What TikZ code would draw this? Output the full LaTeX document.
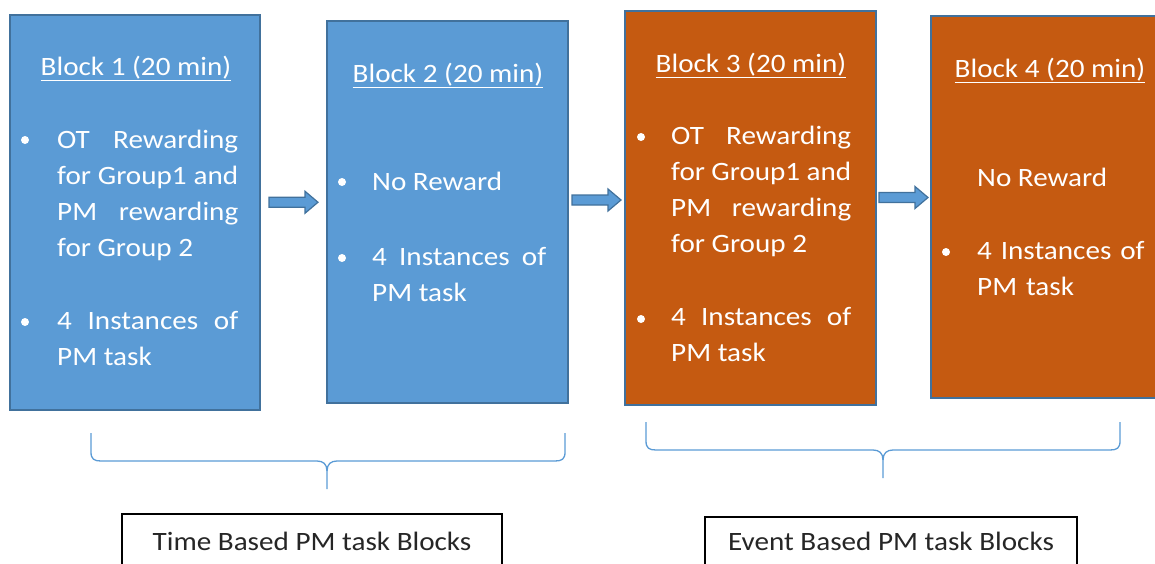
\documentclass[tikz,border=0pt]{standalone}
\usepackage{fontspec}
\setmainfont{Carlito}[FakeStretch=1.1]
\usepackage{xcolor}
\usepackage{tikz}
\usetikzlibrary{calc}

\definecolor{boxblue}{HTML}{5B9BD5}
\definecolor{boxedge}{HTML}{41719C}
\definecolor{boxorange}{HTML}{C55A11}

\newcommand{\boxfont}{\fontsize{26.5}{36}\selectfont}

\begin{document}
\begin{tikzpicture}[x=1pt,y=-1pt,
        block/.style={draw=boxedge, line width=2.5pt, inner sep=0pt},
        head/.style={text=white, font=\boxfont, anchor=base, inner sep=0pt},
        item/.style={text=white, font=\boxfont, anchor=north west, inner sep=0pt, align=justify},
        blockarrow/.style={fill=boxblue, draw=boxedge, line width=1.2pt, line join=miter},
        brace/.style={draw=boxblue, line width=1.3pt},
        groupbox/.style={draw=black, line width=1.2pt, font=\boxfont, text=black!85}]
    \useasboundingbox (0,0) rectangle (1155,563);

    % the four blocks
    \node[block, fill=boxblue, minimum width=250pt, minimum height=395pt] (b1) at (135,212.5) {};
    \node[block, fill=boxblue, minimum width=241pt, minimum height=382pt] (b2) at (447.5,212) {};
    \node[block, fill=boxorange, minimum width=251pt, minimum height=394pt] (b3) at (750.5,208) {};
    \node[block, fill=boxorange, minimum width=238pt, minimum height=382pt] (b4) at (1050,207) {};

    \node[head] (b1h) at (136,75) {\underline{Block 1 (20 min)}};
    \node[head] (b2h) at (448,82) {\underline{Block 2 (20 min)}};
    \node[head] (b3h) at (751,72) {\underline{Block 3 (20 min)}};
    \node[head] (b4h) at (1050,77) {\underline{Block 4 (20 min)}};

    % block contents
    \node[item, text width=181pt] (b1i1) at (57,123) {\noindent\strut OT Rewarding\linebreak for Group1 and\linebreak PM rewarding\linebreak for Group 2};
    \node[item, text width=181pt] (b1i2) at (57,304) {\noindent\strut 4 Instances of\linebreak PM task};

    \node[item, anchor=base west] (b2i1) at (372,190) {No Reward};
    \node[item, text width=174pt] (b2i2) at (372,240) {\noindent\strut 4 Instances of\linebreak PM task};

    \node[item, text width=180pt] (b3i1) at (671,119) {\noindent\strut OT Rewarding\linebreak for Group1 and\linebreak PM rewarding\linebreak for Group 2};
    \node[item, text width=180pt] (b3i2) at (671,300) {\noindent\strut 4 Instances of\linebreak PM task};

    \node[item, anchor=base west] (b4i1) at (977,186) {No Reward};
    \node[item, text width=175pt, align=left] (b4i2) at (977,234) {\noindent\strut 4 Instances of\\PM task};

    \foreach \x/\y in {25/140, 25/322, 342/182, 342/258, 641/137, 641/319, 946/252}
        \fill[white] (\x,\y) circle (4pt);

    % arrows between the blocks
    \foreach \a/\b in {b1/b2, b2/b3, b3/b4}
        \draw[blockarrow, shift={($(\a.east)!0.5!(\b.west)+(0,-10)$)}]
            (-24.5,-5) -- (11.5,-5) -- (11.5,-11) -- (24.5,0) -- (11.5,11) -- (11.5,5) -- (-24.5,5) -- cycle;

    % braces under each pair
    \foreach \l/\m/\r/\t in {91/327/565/433, 646/883/1120/422} {
        \draw[brace] (\l,\t) -- (\l,\t+19) .. controls (\l,\t+26) and (\l+3,\t+28) .. (\l+10,\t+28)
            -- (\m-10,\t+28) .. controls (\m-4,\t+28) and (\m,\t+31) .. (\m,\t+38) -- (\m,\t+56);
        \draw[brace] (\r,\t) -- (\r,\t+19) .. controls (\r,\t+26) and (\r-3,\t+28) .. (\r-10,\t+28)
            -- (\m+10,\t+28) .. controls (\m+4,\t+28) and (\m,\t+31) .. (\m,\t+38);
    }

    \node[groupbox, minimum width=380pt, minimum height=54pt] (tb) at (312,541) {Time Based PM task Blocks};
    \node[groupbox, minimum width=372pt, minimum height=48pt] (eb) at (891,541) {Event Based PM task Blocks};
\end{tikzpicture}
\end{document}
